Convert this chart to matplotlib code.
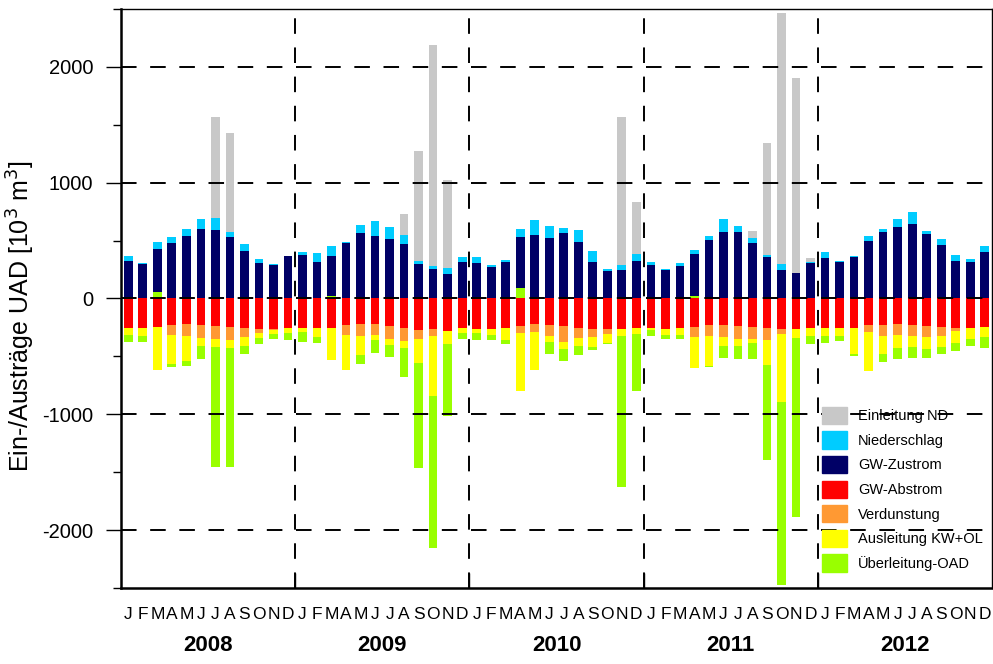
import numpy as np
import matplotlib
matplotlib.use("Agg")
import matplotlib.pyplot as plt
from matplotlib.ticker import MultipleLocator

plt.rcParams['font.family'] = ['Liberation Sans', 'DejaVu Sans']
plt.rcParams['axes.unicode_minus'] = False

years = ['2008', '2009', '2010', '2011', '2012']
month_letters = ['J', 'F', 'M', 'A', 'M', 'J', 'J', 'A', 'S', 'O', 'N', 'D']

# Einträge (positiv), 10^3 m^3 je Monat
gw_zustrom = [321, 295, 371, 483, 543, 599, 592, 530, 407, 308, 291, 364,
              377, 314, 341, 483, 566, 540, 510, 473, 301, 252, 209, 318,
              305, 271, 318, 441, 546, 526, 566, 487, 318, 235, 248, 321,
              288, 245, 278, 364, 503, 573, 576, 477, 357, 248, 218, 305,
              348, 311, 354, 497, 576, 616, 642, 559, 463, 321, 318, 404]
niederschlag = [50, 10, 63, 47, 53, 89, 103, 43, 60, 36, 10, 7,
                27, 77, 89, 7, 66, 129, 109, 73, 20, 29, 52, 43,
                56, 20, 10, 72, 133, 103, 46, 102, 96, 20, 40, 66,
                26, 13, 30, 30, 40, 115, 53, 43, 17, 47, 0, 13,
                52, 13, 17, 39, 20, 69, 109, 24, 50, 56, 20, 46]
einleitung_nd = [0, 0, 0, 0, 0, 0, 874, 860, 0, 0, 0, 0,
                 0, 0, 0, 0, 0, 0, 0, 186, 953, 1904, 762, 0,
                 0, 0, 0, 0, 0, 0, 0, 0, 0, 0, 1281, 450,
                 0, 0, 0, 0, 0, 0, 0, 59, 970, 2171, 1682, 30,
                 0, 0, 0, 0, 0, 0, 0, 0, 0, 0, 0, 0]

# Austräge (negativ)
gw_abstrom = [-258, -258, -248, -232, -218, -225, -242, -245, -255, -261, -265, -258,
              -252, -258, -252, -228, -222, -218, -242, -255, -271, -265, -278, -258,
              -265, -265, -258, -238, -218, -228, -242, -252, -261, -265, -261, -258,
              -252, -265, -258, -248, -228, -228, -242, -248, -255, -265, -265, -258,
              -258, -258, -252, -232, -228, -218, -228, -242, -245, -255, -255, -245]
verdunstung = [0, 0, 0, -82, -106, -119, -112, -116, -79, -37, -10, 0,
               0, 0, 0, -86, -106, -96, -109, -112, -80, -59, 0, 0,
               0, 0, 0, -57, -73, -96, -132, -92, -70, -46, 0, 0,
               0, 0, 0, -83, -100, -103, -112, -103, -102, -43, 0, 0,
               0, 0, 0, -56, -96, -96, -96, -92, -79, -30, 0, 0]
ausleitung_kw_ol = [-60, -66, -374, -252, -216, -66, -63, -66, -76, -43, -33, -40,
                    -39, -76, -281, -302, -162, -43, -53, -57, -205, -517, -119, -43,
                    -36, -53, -99, -503, -328, -50, -66, -63, -86, -76, -67, -47,
                    -19, -53, -60, -268, -255, -83, -60, -33, -219, -586, -79, -70,
                    -66, -66, -231, -338, -159, -116, -93, -103, -93, -96, -96, -89]
# Überleitung-OAD: meist Austrag, in einzelnen Monaten Eintrag
ueberleitung_oad = [-56, -50, 53, -23, -43, -113, -1039, -1029, -67, -50, -46, -59,
                    -83, -50, 23, 0, -73, -116, -99, -255, -910, -1314, -616, -50,
                    -56, -43, -37, 89, 0, -109, -100, -80, -30, -7, -1304, -493,
                    -57, -30, -33, 23, -10, -96, -106, -139, -818, -1582, -1546, -66,
                    -57, -43, -10, 0, -67, -93, -96, -76, -63, -69, -63, -90]

colors = {
    'Einleitung ND': '#c8c8c8',
    'Niederschlag': '#00ccff',
    'GW-Zustrom': '#000066',
    'GW-Abstrom': '#ff0000',
    'Verdunstung': '#ff9933',
    'Ausleitung KW+OL': '#ffff00',
    'Überleitung-OAD': '#99ff00',
}

x = np.arange(len(gw_zustrom))
w = 0.6

fig = plt.figure(figsize=(9.93, 6.64), dpi=100)
ax = fig.add_axes([0.1219, 0.1145, 0.8771, 0.872])

ueb = np.array(ueberleitung_oad, dtype=float)
ueb_pos = np.clip(ueb, 0, None)
ueb_neg = np.clip(ueb, None, 0)

# positive Seite
bottom = ueb_pos.copy()
ax.bar(x, ueb_pos, w, color=colors['Überleitung-OAD'], zorder=2)
for name, vals in [('GW-Zustrom', gw_zustrom), ('Niederschlag', niederschlag),
                   ('Einleitung ND', einleitung_nd)]:
    vals = np.array(vals, dtype=float)
    ax.bar(x, vals, w, bottom=bottom, color=colors[name], zorder=2)
    bottom += vals

# negative Seite
bottom = np.zeros(len(x))
for name, vals in [('GW-Abstrom', gw_abstrom), ('Verdunstung', verdunstung),
                   ('Ausleitung KW+OL', ausleitung_kw_ol), ('Überleitung-OAD', ueb_neg)]:
    vals = np.array(vals, dtype=float)
    ax.bar(x, vals, w, bottom=bottom, color=colors[name], zorder=2)
    bottom += vals

dash = (0, (8, 7))
for yv in [-2000, -1000, 0, 1000, 2000]:
    ax.axhline(yv, color='black', lw=1.4, linestyle=dash, zorder=3)
for xv in [11.5, 23.5, 35.5, 47.5]:
    ax.axvline(xv, color='black', lw=1.4, linestyle=dash, zorder=3)

ax.set_xlim(-0.5, 59.5)
ax.set_ylim(-2500, 2500)

ax.yaxis.set_major_locator(MultipleLocator(1000))
ax.yaxis.set_minor_locator(MultipleLocator(500))
ax.tick_params(axis='y', which='major', length=11, width=1, labelsize=14.5, pad=9)
ax.tick_params(axis='y', which='minor', length=6, width=1)

ax.set_xticks(x)
ax.set_xticklabels(month_letters * len(years), fontsize=12.5)
ax.set_xticks([11.5, 23.5, 35.5, 47.5], minor=True)
ax.tick_params(axis='x', which='major', length=0, pad=14)
ax.tick_params(axis='x', which='minor', direction='in', length=11, width=1)

for i, yr in enumerate(years):
    ax.text(i * 12 + 5.5, -0.099, yr, transform=ax.get_xaxis_transform(),
            ha='center', va='center', fontsize=16, fontweight='bold')

ax.set_ylabel('Ein-/Austräge UAD [10$^3$ m$^3$]', fontsize=18)
ax.yaxis.set_label_coords(-0.097, 0.47)

for side in ['left', 'bottom']:
    ax.spines[side].set_linewidth(1.8)
for side in ['top', 'right']:
    ax.spines[side].set_linewidth(1.0)

legend_order = ['Einleitung ND', 'Niederschlag', 'GW-Zustrom', 'GW-Abstrom',
                'Verdunstung', 'Ausleitung KW+OL', 'Überleitung-OAD']
handles = [plt.Rectangle((0, 0), 1, 1, color=colors[n]) for n in legend_order]
leg = ax.legend(handles, legend_order, loc='upper left', bbox_to_anchor=(0.805, 0.313),
                frameon=False, prop={'size': 10.5},
                handlelength=1.7, handleheight=1.45, labelspacing=0.5,
                handletextpad=0.75, borderpad=0, borderaxespad=0)

fig.savefig('out.png', dpi=100)
